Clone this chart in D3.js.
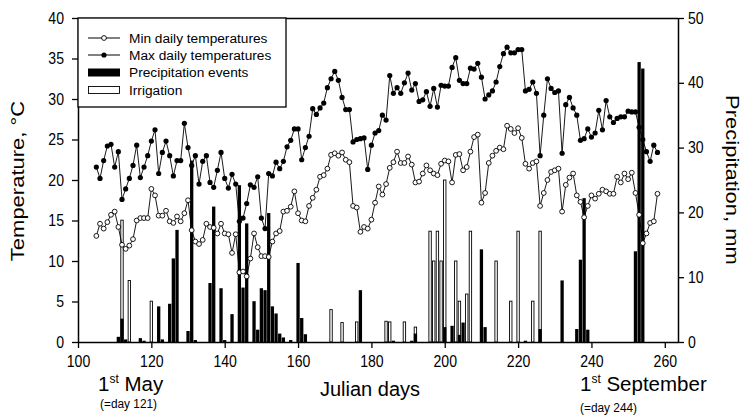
<!DOCTYPE html>
<html><head><meta charset="utf-8">
<script src="https://cdn.jsdelivr.net/npm/d3@7"></script>
<style>
body{margin:0;background:#fff}
svg{display:block;font-family:"Liberation Sans",Arial,Helvetica,sans-serif}
</style></head><body>
<svg id="chart" width="746" height="415"></svg>
<script>
// Julian days with daily temperature records
const tempDays = [105,106,107,108,109,110,111,112,113,114,115,116,117,118,119,120,121,122,123,124,
  125,126,127,128,129,130,131,132,133,134,135,136,137,138,139,140,141,142,143,144,
  145,146,147,148,149,150,151,152,153,154,155,156,157,158,159,160,161,162,163,164,
  165,166,167,168,169,170,171,172,173,174,175,176,177,178,179,180,181,182,183,184,
  185,186,187,188,189,190,191,192,193,194,195,196,197,198,199,200,201,202,203,204,
  205,206,207,208,209,210,211,212,213,214,215,216,217,218,219,220,221,222,223,224,
  225,226,227,228,229,230,231,232,233,234,235,236,237,238,239,240,241,242,243,244,
  245,246,247,248,249,250,251,252,253,254,255,256,257,258];
// Max daily temperatures, °C
const maxTemp = [21.6,20.2,22.4,24.2,24.4,21.6,23.5,17.6,18.9,20.2,
  21.8,24.3,20.3,21.6,23.0,24.8,26.2,20.8,23.4,24.8,
  23.0,20.5,22.4,22.4,27.0,24.0,21.8,23.0,19.5,22.3,
  23.0,19.7,19.1,21.2,23.4,20.2,19.0,20.7,19.5,14.9,
  15.3,17.1,19.4,19.1,20.4,15.3,14.0,20.8,20.5,22.2,
  21.4,22.3,24.1,24.9,26.3,26.3,22.5,24.0,25.4,28.8,
  28.1,28.9,29.5,31.4,32.5,33.4,32.3,30.2,28.7,28.7,
  24.7,25.0,25.1,25.2,21.3,24.3,25.8,26.1,28.0,27.4,
  32.9,30.7,31.4,30.7,32.0,33.2,31.1,31.9,29.7,29.9,
  30.9,29.1,31.3,29.0,31.7,31.6,31.6,33.9,35.1,32.3,
  31.9,31.9,33.8,33.7,34.4,32.7,30.0,30.5,31.0,32.1,
  34.0,35.6,36.4,35.7,35.7,36.1,36.1,31.0,31.2,32.1,
  30.7,23.0,28.0,32.5,31.3,30.8,31.0,23.3,29.3,30.2,
  28.9,28.0,24.9,25.1,26.3,25.3,25.8,28.6,26.2,29.8,
  27.8,27.1,27.6,27.8,27.8,28.5,28.4,28.4,26.5,25.0,
  23.5,22.3,24.3,23.4];
// Min daily temperatures, °C
const minTemp = [13.1,14.6,14.0,14.8,15.7,16.1,14.2,12.0,11.5,11.9,
  12.7,15.0,15.3,15.3,15.3,18.9,18.1,15.6,15.6,16.2,
  14.9,14.7,15.5,14.9,15.9,17.5,13.8,12.4,12.1,12.6,
  14.6,14.2,14.1,13.4,14.6,13.4,13.3,11.0,13.3,8.6,
  8.7,8.1,10.3,13.4,11.7,10.6,10.6,10.5,12.4,13.4,
  13.7,16.1,16.2,16.7,18.6,15.9,15.0,14.9,16.8,17.8,
  18.8,20.4,20.6,21.4,23.1,23.3,23.0,23.4,22.5,22.2,
  16.8,16.6,13.6,14.2,14.0,15.1,17.2,19.2,18.2,19.5,
  21.5,22.2,23.5,22.1,22.1,22.9,21.9,19.7,19.8,20.8,
  21.8,21.2,20.8,20.6,22.0,22.4,22.3,19.7,23.1,23.2,
  21.2,21.6,23.5,25.3,25.6,17.2,18.4,22.1,23.0,23.6,
  24.0,23.8,26.7,26.3,25.8,26.4,25.2,22.0,21.4,22.1,
  22.3,16.8,18.4,20.0,21.0,21.2,21.4,16.1,19.4,20.3,
  20.8,18.1,17.3,15.4,16.8,18.1,17.7,18.3,18.8,18.6,
  18.3,18.3,20.4,19.7,20.8,20.1,20.9,18.4,15.7,12.2,
  13.4,14.7,14.9,18.3];
// Precipitation events, mm
const precipDays = [111,112,113,117,118,122,123,125,126,127,130,131,132,136,137,139,140,142,144,145,
  146,148,149,150,151,152,153,154,155,156,158,160,161,162,177,186,191,192,200,202,
  204,205,210,211,222,226,232,236,237,238,239,252,253,254];
const precipMm = [0.8,3.6,0.4,0.6,0.2,5.5,0.4,5.9,12.9,17.3,1.7,28.0,0.3,9.1,20.9,8.3,0.3,4.3,24.2,8.4,
  18.3,6.3,1.9,8.3,8.0,19.9,5.5,4.4,1.3,0.7,0.3,12.2,3.7,1.2,8.0,0.2,0.2,1.3,2.3,2.5,
  1.1,3.0,14.3,2.3,0.2,2.0,9.5,2.0,12.7,22.2,1.9,14.0,43.2,42.2];
// Irrigation, mm
const irrigDays = [112,114,120,169,172,176,184,185,189,192,196,197,198,199,200,203,204,206,207,214,218,220,224,226];
const irrigMm = [18.8,9.5,6.3,5.0,3.0,3.1,3.2,3.1,3.1,2.3,17.1,12.5,17.1,12.5,25.0,12.5,6.3,7.4,17.1,12.5,6.3,17.1,6.3,17.1];

const xTicks = [100,120,140,160,180,200,220,240,260];
const tempTicks = [0,5,10,15,20,25,30,35,40];
const mmTicks = [0,10,20,30,40,50];
const legendLabels = ["Min daily temperatures","Max daily temperatures","Precipitation events","Irrigation"];

const svg = d3.select("#chart");
const L = 78, R = 678, T = 18, B = 342;

const x = d3.scaleLinear().domain([100, 263.6]).range([L, R]);
const yT = d3.scaleLinear().domain([0, 40]).range([B, T]);
const yP = d3.scaleLinear().domain([0, 50]).range([B, T]);

// bars: irrigation underneath, precipitation on top
const irrig = irrigDays.map((d, i) => ({day: d, mm: irrigMm[i]}));
const precip = precipDays.map((d, i) => ({day: d, mm: precipMm[i]}));
const iw = 2.4, pw = 3.3;

svg.append("g").selectAll("rect").data(irrig).join("rect")
  .attr("x", d => x(d.day) - iw / 2).attr("width", iw)
  .attr("y", d => yP(d.mm)).attr("height", d => yP(0) - yP(d.mm))
  .attr("fill", "#fff").attr("stroke", "#000").attr("stroke-width", 0.9);

svg.append("g").selectAll("rect").data(precip).join("rect")
  .attr("x", d => x(d.day) - pw / 2).attr("width", pw)
  .attr("y", d => yP(d.mm)).attr("height", d => yP(0) - yP(d.mm))
  .attr("fill", "#000");

// temperature series
const maxPts = tempDays.map((d, i) => ({day: d, t: maxTemp[i]}));
const minPts = tempDays.map((d, i) => ({day: d, t: minTemp[i]}));
const line = d3.line().x(d => x(d.day)).y(d => yT(d.t));

svg.append("path").datum(minPts).attr("d", line)
  .attr("fill", "none").attr("stroke", "#000").attr("stroke-width", 0.9);
svg.append("path").datum(maxPts).attr("d", line)
  .attr("fill", "none").attr("stroke", "#000").attr("stroke-width", 0.9);

svg.append("g").selectAll("circle").data(minPts).join("circle")
  .attr("cx", d => x(d.day)).attr("cy", d => yT(d.t)).attr("r", 2.4)
  .attr("fill", "#fff").attr("stroke", "#000").attr("stroke-width", 0.9);
svg.append("g").selectAll("circle").data(maxPts).join("circle")
  .attr("cx", d => x(d.day)).attr("cy", d => yT(d.t)).attr("r", 2.6)
  .attr("fill", "#000");

// frame and axes
svg.append("line").attr("x1", L).attr("x2", R).attr("y1", T + 0.5).attr("y2", T + 0.5)
  .attr("stroke", "#000").attr("stroke-width", 1.5);

const fs = 16, sq = 0.88;
const ax = svg.append("g").attr("transform", `translate(0,${B})`)
  .call(d3.axisBottom(x).tickValues(xTicks).tickSize(6).tickPadding(8).tickSizeOuter(0));
const ayl = svg.append("g").attr("transform", `translate(${L},0)`)
  .call(d3.axisLeft(yT).tickValues(tempTicks).tickSize(6).tickPadding(0).tickSizeOuter(0));
const ayr = svg.append("g").attr("transform", `translate(${R},0)`)
  .call(d3.axisRight(yP).tickValues(mmTicks).tickSize(6).tickPadding(0).tickSizeOuter(0));
[ax, ayl, ayr].forEach(g => {
  g.selectAll("path.domain").attr("stroke", "#000").attr("stroke-width", 1.5);
  g.selectAll(".tick line").attr("stroke", "#000").attr("stroke-width", 1.3);
  g.selectAll("text").attr("font-size", fs).attr("fill", "#000")
    .attr("font-family", "Liberation Sans, Arial, sans-serif");
});
// narrow the tick lettering
ax.selectAll(".tick text").attr("transform", `scale(${sq},1)`);
ayl.selectAll(".tick text").attr("x", 0).attr("transform", `translate(-14,0) scale(${sq},1)`);
ayr.selectAll(".tick text").attr("x", 0).attr("transform", `translate(10,0) scale(${sq},1)`);

function label(xp, yp, size, txt, opts = {}) {
  const rot = opts.rotate ? ` rotate(${opts.rotate})` : "";
  const sx = opts.sx === undefined ? sq : opts.sx;
  return svg.append("text")
    .attr("transform", `translate(${xp},${yp}) scale(${sx},1)${rot}`)
    .attr("text-anchor", opts.anchor || "start")
    .attr("font-size", size).text(txt);
}

// axis titles
label(24, 181, 22, "Temperature, °C", {rotate: -90, anchor: "middle", sx: 0.85});
label(726, 180, 22, "Precipitation, mm", {rotate: 90, anchor: "middle", sx: 0.85});
label(370, 396, 20, "Julian days", {anchor: "middle", sx: 1});

function dateLabel(xp, yp, month, note, xn, yn) {
  const t = label(xp, yp, 20.5, "1", {sx: 1});
  t.append("tspan").attr("dy", -8).attr("font-size", 12).text("st");
  t.append("tspan").attr("dy", 8).text(" " + month);
  label(xn, yn, 13.5, note);
}
dateLabel(98, 391, "May", "(=day 121)", 100, 408);
dateLabel(580, 391, "September", "(=day 244)", 580, 412);

// legend
const lg = svg.append("g");
lg.append("rect").attr("x", L).attr("y", T).attr("width", 208).attr("height", 89)
  .attr("fill", "#fff").attr("stroke", "#000").attr("stroke-width", 1.3);
const rows = [38, 55, 72.5, 90];
lg.append("line").attr("x1", 88).attr("x2", 120).attr("y1", rows[0]).attr("y2", rows[0]).attr("stroke", "#000");
lg.append("circle").attr("cx", 104).attr("cy", rows[0]).attr("r", 2.4).attr("fill", "#fff").attr("stroke", "#000").attr("stroke-width", 0.9);
lg.append("line").attr("x1", 88).attr("x2", 120).attr("y1", rows[1]).attr("y2", rows[1]).attr("stroke", "#000");
lg.append("circle").attr("cx", 104).attr("cy", rows[1]).attr("r", 2.6).attr("fill", "#000");
lg.append("rect").attr("x", 88).attr("y", rows[2] - 4).attr("width", 32).attr("height", 8).attr("fill", "#000");
lg.append("rect").attr("x", 88.5).attr("y", rows[3] - 3.5).attr("width", 31).attr("height", 7)
  .attr("fill", "#fff").attr("stroke", "#000").attr("stroke-width", 0.9);
lg.selectAll("text").data(legendLabels).join("text")
  .attr("x", 129).attr("y", (d, i) => rows[i]).attr("dy", "0.35em")
  .attr("font-size", 13.7).text(d => d);
</script>
</body></html>
